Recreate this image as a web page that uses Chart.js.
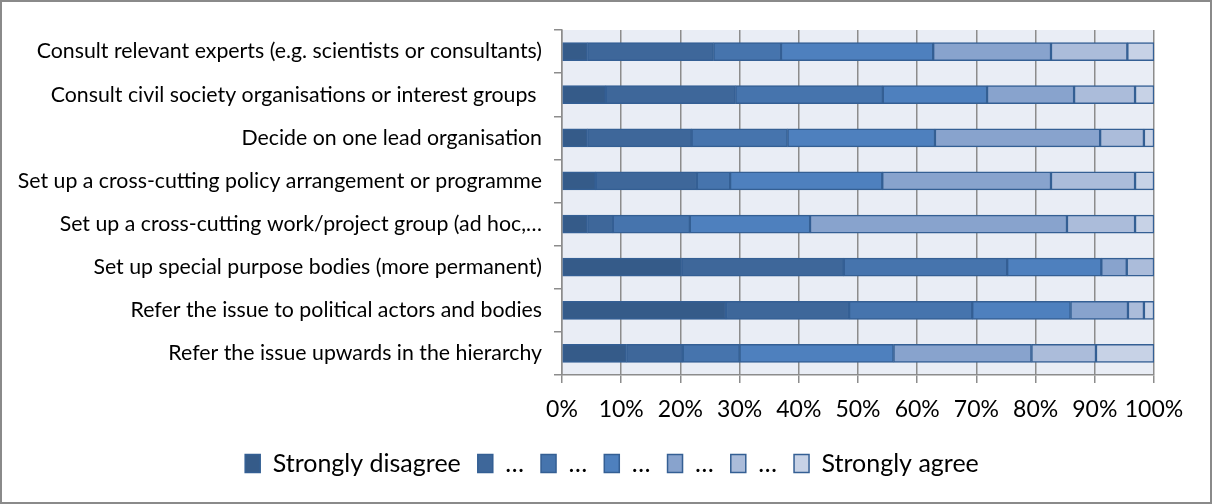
<!DOCTYPE html>
<html>
<head>
<meta charset="utf-8">
<script src="https://cdn.jsdelivr.net/npm/chart.js@4/dist/chart.umd.min.js"></script>
<style>
  html, body { margin: 0; padding: 0; background: #fff; }
  #wrap {
    position: relative;
    width: 1212px;
    height: 504px;
    box-sizing: border-box;
    border: 2px solid #8a8a8a;
  }
  #chart { display: block; }
</style>
</head>
<body>
<div id="wrap"><canvas id="chart" width="1208" height="500"></canvas></div>
<script>
// survey statements, top to bottom
const statements = [
    'Consult relevant experts (e.g. scientists or consultants)',
    'Consult civil society organisations or interest groups ',
    'Decide on one lead organisation',
    'Set up a cross-cutting policy arrangement or programme',
    'Set up a cross-cutting work/project group (ad hoc,\u2026',
    'Set up special purpose bodies (more permanent)',
    'Refer the issue to political actors and bodies',
    'Refer the issue upwards in the hierarchy'
];

// share of answers per scale point (%)
const stronglyDisagree = [4.3, 7.4, 4.3, 5.7, 4.3, 20.2, 27.7, 10.9];
const point2 = [21.3, 21.9, 17.6, 17.1, 4.3, 27.4, 20.8, 9.5];
const point3 = [11.4, 24.9, 16.2, 5.6, 13.0, 27.6, 20.8, 9.6];
const point4 = [25.7, 17.6, 24.9, 25.7, 20.3, 15.9, 16.6, 26.0];
const point5 = [19.9, 14.7, 27.9, 28.5, 43.4, 4.3, 9.7, 23.3];
const point6 = [12.9, 10.3, 7.4, 14.2, 11.5, 4.6, 2.7, 10.9];
const stronglyAgree = [4.5, 3.2, 1.7, 3.2, 3.2, 0, 1.7, 9.8];

const seriesNames = ['Strongly disagree', '\u2026', '\u2026', '\u2026', '\u2026', '\u2026', 'Strongly agree'];
const seriesValues = [stronglyDisagree, point2, point3, point4, point5, point6, stronglyAgree];
const seriesColors = ['#355b89', '#3e679a', '#4674ad', '#4e80be', '#88a3cd', '#abbcda', '#c7d2e6'];

const FONT = 'Lato, "Liberation Sans", sans-serif';

// light fill behind the bars
const plotBackground = {
    id: 'plotBackground',
    beforeDraw(chart) {
        const { ctx, chartArea: a } = chart;
        ctx.save();
        ctx.fillStyle = '#e9edf5';
        ctx.fillRect(a.left, a.top, a.right - a.left, a.bottom - a.top);
        ctx.restore();
    }
};

// legend sits a bit right of the canvas centre
const legendShift = {
    id: 'legendShift',
    afterLayout(chart) {
        const lg = chart.legend;
        if (!lg) return;
        lg.left += 34;
        lg.right += 34;
    }
};

const ctx = document.getElementById('chart').getContext('2d');
new Chart(ctx, {
    type: 'bar',
    data: {
        labels: statements,
        datasets: seriesValues.map((values, i) => ({
            label: seriesNames[i],
            data: values,
            backgroundColor: seriesColors[i],
            borderColor: '#345f94',
            borderWidth: 1.5,
            borderSkipped: false,
            barThickness: 18
        }))
    },
    options: {
        indexAxis: 'y',
        responsive: false,
        animation: false,
        layout: { padding: { top: 28, right: 56, left: 0, bottom: 16 } },
        scales: {
            x: {
                stacked: true,
                min: 0,
                max: 100,
                ticks: {
                    stepSize: 10,
                    color: '#000',
                    padding: 13,
                    autoSkip: false,
                    maxRotation: 0,
                    minRotation: 0,
                    font: { family: FONT, size: 23 },
                    callback: v => v + '%'
                },
                grid: { color: '#8c8c8c', lineWidth: 1.5, tickLength: 8 },
                border: { color: '#8c8c8c', width: 1.5 },
                afterFit(scale) { scale.height = 59; }
            },
            y: {
                stacked: true,
                ticks: {
                    color: '#000',
                    padding: 12,
                    font: { family: FONT, size: 21.3 }
                },
                grid: { offset: true, drawOnChartArea: false, color: '#8c8c8c', lineWidth: 1.5, tickLength: 8 },
                border: { color: '#8c8c8c', width: 1.5 },
                afterFit(scale) { scale.width = 560; }
            }
        },
        plugins: {
            legend: {
                position: 'bottom',
                labels: {
                    color: '#000',
                    boxWidth: 15,
                    boxHeight: 18,
                    padding: 17,
                    font: { family: FONT, size: 25 }
                }
            },
            tooltip: { enabled: false }
        }
    },
    plugins: [plotBackground, legendShift]
});
</script>
</body>
</html>
